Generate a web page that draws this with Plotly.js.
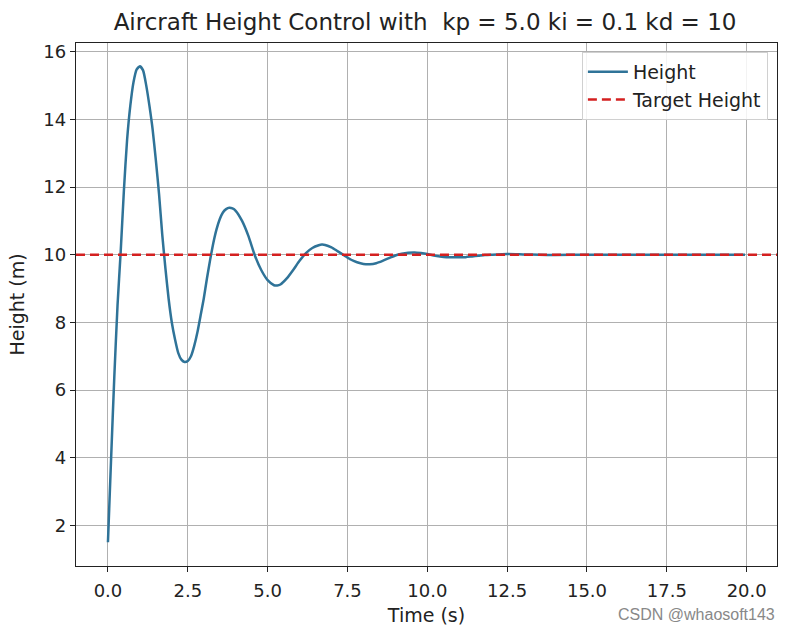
<!DOCTYPE html>
<html>
<head>
<meta charset="utf-8">
<script src="https://cdn.plot.ly/plotly-3.0.1.min.js"></script>
<style>html,body{margin:0;padding:0;background:#fff;}#chart{width:790px;height:630px;}</style>
</head>
<body>
<div id="chart"></div>
<script>
// Time samples (s)
const timeS = [0,0.1,0.2,0.3,0.4,0.5,0.6,0.7,0.8,0.9,1.0,1.1,1.2,1.3,1.4,1.5,1.6,1.7,1.8,1.9,
  2.0,2.1,2.2,2.3,2.4,2.5,2.6,2.7,2.8,2.9,3.0,3.1,3.2,3.3,3.4,3.5,3.6,3.7,3.8,3.9,
  4.0,4.2,4.4,4.6,4.8,5.0,5.2,5.3,5.4,5.6,5.8,6.0,6.2,6.4,6.6,6.7,6.8,7.0,7.2,7.4,
  7.6,7.8,8.0,8.2,8.4,8.6,8.8,9.0,9.2,9.4,9.6,9.8,10.0,10.2,10.4,10.6,10.8,11.0,11.2,11.4,
  11.6,11.8,12.0,12.5,13.0,13.5,14.0,15.0,16.0,17.0,18.0,19.0,19.95];
// Height (m)
const heightM = [1.5,4.0,6.4,8.5,10.1,11.9,13.4,14.4,15.1,15.48,15.57,15.45,15.0,14.4,13.7,12.8,11.8,10.6,9.6,8.7,
  8.0,7.5,7.1,6.9,6.83,6.86,7.0,7.3,7.7,8.2,8.7,9.3,9.85,10.35,10.75,11.05,11.25,11.35,11.39,11.37,
  11.3,11.0,10.55,9.98,9.55,9.25,9.1,9.09,9.12,9.3,9.55,9.82,10.05,10.2,10.28,10.30,10.29,10.22,10.1,9.98,
  9.86,9.78,9.73,9.72,9.75,9.82,9.9,9.98,10.03,10.06,10.07,10.05,10.02,9.98,9.95,9.93,9.925,9.925,9.93,9.95,
  9.97,9.99,10.0,10.02,10.01,10.0,9.995,10.0,10.0,10.0,10.0,10.0,10.0];
const targetHeight = 10;
const targetX = [-1, 20.95];
const targetY = [targetHeight, targetHeight];
const xTicks = [0,2.5,5,7.5,10,12.5,15,17.5,20];
const xTickText = ['0.0','2.5','5.0','7.5','10.0','12.5','15.0','17.5','20.0'];
const yTicks = [2,4,6,8,10,12,14,16];

const font = 'DejaVu Sans, sans-serif';
const traces = [
  {x: timeS, y: heightM, type: 'scatter', mode: 'lines', name: 'Height',
   line: {color: '#2f7398', width: 2.5, shape: 'spline', smoothing: 0.6}},
  {x: targetX, y: targetY, type: 'scatter', mode: 'lines', name: 'Target Height',
   line: {color: '#d42020', width: 2.4, dash: '9px,5px'}}
];
const layout = {
  width: 790, height: 630,
  paper_bgcolor: '#fff', plot_bgcolor: '#fff',
  margin: {l: 76, r: 13, t: 43, b: 64},
  font: {family: font, size: 18, color: '#222'},
  title: {text: 'Aircraft Height Control with  kp = 5.0 ki = 0.1 kd = 10',
          font: {family: font, size: 23, color: '#222'}, x: 0.538, xanchor: 'center', y: 0.965, yanchor: 'middle'},
  xaxis: {range: [-1.0, 20.95], tickvals: xTicks, ticktext: xTickText,
          showgrid: true, gridcolor: '#b0b0b0', gridwidth: 1,
          showline: true, linecolor: '#222', linewidth: 1.3, mirror: true,
          ticks: 'outside', ticklen: 5, tickcolor: '#222', zeroline: false,
          ticklabelstandoff: 3,
          tickfont: {family: font, size: 18, color: '#222'},
          title: {text: 'Time (s)', font: {family: font, size: 19, color: '#222'}, standoff: 8}},
  yaxis: {range: [0.8, 16.26], tickvals: yTicks,
          showgrid: true, gridcolor: '#b0b0b0', gridwidth: 1,
          showline: true, linecolor: '#222', linewidth: 1.3, mirror: true,
          ticks: 'outside', ticklen: 5, tickcolor: '#222', zeroline: false,
          tickfont: {family: font, size: 18, color: '#222'},
          title: {text: 'Height (m)', font: {family: font, size: 19, color: '#222'}, standoff: 13}},
  legend: {x: 0.987, xanchor: 'right', y: 0.983, yanchor: 'top',
           bgcolor: 'rgba(255,255,255,0.85)', bordercolor: '#d0d0d0', borderwidth: 1,
           font: {family: font, size: 19, color: '#222'}, itemwidth: 40},
  showlegend: true,
  annotations: [{text: 'CSDN @whaosoft143', xref: 'paper', yref: 'paper', x: 1.0, y: -0.092,
                 xanchor: 'right', yanchor: 'middle', showarrow: false,
                 font: {family: 'Liberation Sans, Arial, sans-serif', size: 16, color: '#888'}}]
};
Plotly.newPlot('chart', traces, layout, {displayModeBar: false, staticPlot: true});
</script>
</body>
</html>
